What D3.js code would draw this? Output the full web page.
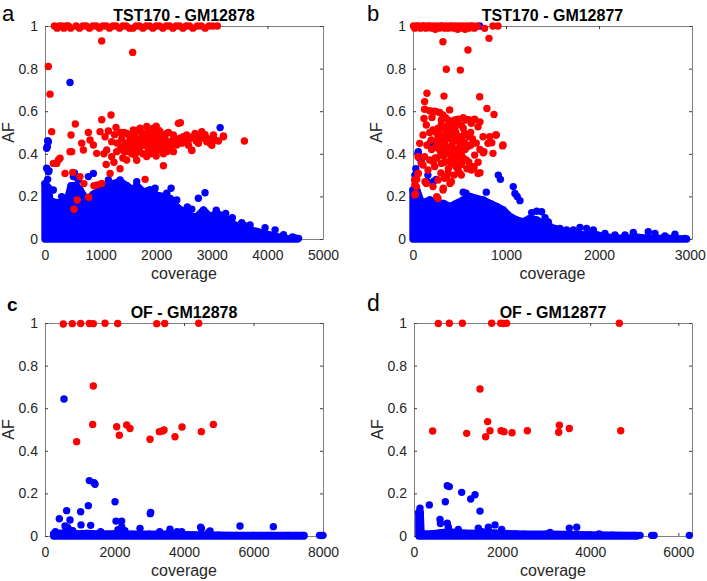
<!DOCTYPE html>
<html>
<head>
<meta charset="utf-8">
<script src="https://cdn.jsdelivr.net/npm/d3@7/dist/d3.min.js"></script>
<style>
  body { margin: 0; background: #fff; }
  text { font-family: "Liberation Sans", Arial, Helvetica, sans-serif; }
</style>
</head>
<body>
<svg id="fig" width="707" height="581"></svg>
<script>
// ---- data: [coverage, AF] ----
// solid blue cores (upper outline of the saturated point cloud)
var aCore = [[0,0],[0,0.26],[60,0.24],[90,0.18],[210,0.17],[330,0.17],[420,0.2],[470,0.25],[560,0.25],[630,0.23],[750,0.18],[870,0.21],[990,0.23],[1110,0.25],[1230,0.26],[1350,0.27],[1470,0.25],[1590,0.23],[1650,0.25],[1770,0.22],[1890,0.23],[2010,0.205],[2130,0.2],[2250,0.19],[2370,0.15],[2490,0.13],[2610,0.105],[2730,0.105],[2850,0.135],[2970,0.105],[3090,0.12],[3210,0.105],[3330,0.08],[3450,0.06],[3570,0.065],[3690,0.042],[3810,0.035],[3930,0.027],[4050,0.018],[4170,0.011],[4290,0.003],[4410,0],[4540,0]];
var aBlue = [[48,0.461],[30,0.426],[60,0.457],[42,0.434],[30,0.332],[72,0.321],[60,0.316],[48,0.28],[150,0.23],[300,0.199],[450,0.735],[510,0.308],[510,0.293],[530,0.31],[600,0.277],[560,0.29],[780,0.293],[870,0.308],[1140,0.277],[1350,0.277],[1650,0.269],[1980,0.238],[2190,0.215],[2268,0.238],[2370,0.183],[2758,0.191],[2878,0.217],[3150,0.523],[3538,0.077],[3688,0.066],[3958,0.053],[4138,0.043],[4290,0.02],[4450,0.01],[4500,0.005],[4560,0.003],[2640,0.14],[2560,0.15],[3080,0.135],[3250,0.12],[3370,0.1]];
var aRed = [[170,1],[220,0.99],[260,1],[300,1],[340,0.99],[380,1],[420,1],[460,0.99],[560,1],[620,0.99],[680,1],[740,1],[800,0.99],[860,1],[920,1],[980,0.99],[1040,1],[1100,1],[1160,0.99],[1220,1],[1280,1],[1340,0.99],[1400,1],[1460,1],[1520,0.99],[1580,0.99],[1640,1],[1700,1],[1760,0.99],[1820,1],[1880,1],[1940,0.99],[2000,1],[2060,1],[2120,0.99],[2180,1],[2240,1],[2300,0.99],[2360,1],[2420,1],[2480,0.99],[2540,1],[2600,1],[2660,0.99],[2740,1],[2810,1],[2880,0.99],[2950,1],[3020,1],[3100,1],
  [1020,0.93],[1577,0.876],[60,0.81],[90,0.68],[120,0.504],[1187,0.582],[1020,0.56],[545,0.54],[2435,0.546],[3586,0.46],[3210,0.48],[468,0.488],[450,0.41],[270,0.379],[150,0.355],[210,0.355],[240,0.371],[360,0.308],[498,0.313],[630,0.293],[700,0.26],[880,0.25],[940,0.254],[1020,0.261],[1800,0.28],[580,0.183],[786,0.196],[522,0.14],[1060,0.4],[1100,0.35],[2130,0.344],
  [780,0.5],[990,0.504],[1140,0.507],[1277,0.524],[660,0.45],[810,0.465],[870,0.441],[1080,0.48],[1200,0.457],[480,0.41],[690,0.418],[930,0.402],[1110,0.418],[1200,0.386],[1170,0.308],[1350,0.33],
  [1469,0.496],[1589,0.512],[1709,0.52],[1829,0.528],[1949,0.52],[2069,0.504],[2189,0.496],[2309,0.488],[2429,0.473],[2549,0.488],[1529,0.465],[1649,0.473],[1769,0.48],[1889,0.488],[2009,0.473],[2129,0.465],[2249,0.449],[2369,0.441],[1409,0.434],[1529,0.426],[1709,0.434],[1829,0.441],[1949,0.426],[2069,0.418],[2189,0.41],[2309,0.41],[1289,0.41],[1619,0.394],[1829,0.387],[1469,0.371],[2399,0.543],
  [1380,0.47],[1440,0.45],[1500,0.49],[1560,0.44],[1620,0.5],[1680,0.46],[1740,0.5],[1800,0.46],[1860,0.5],[1920,0.46],[1980,0.49],[2040,0.44],[2100,0.49],[2160,0.47],[2220,0.5],[2280,0.46],[2340,0.47],[2460,0.45],[2520,0.46],[1300,0.45],[1250,0.49],[1350,0.5],[1700,0.41],[1900,0.4],[2000,0.39],[1560,0.4],[1400,0.38],[1240,0.36],[1650,0.37],[2250,0.42],[2130,0.4],
  [1430,0.41],[1480,0.43],[1540,0.48],[1600,0.46],[1660,0.43],[1720,0.47],[1780,0.44],[1840,0.47],[1900,0.45],[1960,0.47],[2020,0.45],[2080,0.46],[2140,0.43],[2200,0.45],[1760,0.4],[1860,0.42],[1980,0.41],[2100,0.42],[1600,0.42],[1500,0.41],[2380,0.46],[2280,0.44],[1350,0.42],[1420,0.5],[1900,0.5],[2050,0.51],[1650,0.51],[2000,0.53],
  [2489,0.48],[2549,0.465],[2639,0.418],[2699,0.496],[2759,0.449],[2819,0.504],[2849,0.473],[2909,0.457],[2969,0.449],[3029,0.488],[3059,0.465],[3209,0.484],[2600,0.47],[2660,0.48],[2720,0.46],[2780,0.48],[2880,0.49],[2940,0.47],[3000,0.44],[3120,0.46],[2580,0.44],[2640,0.415]];

var bCore = [[0,0],[0,0.23],[40,0.23],[93,0.167],[183,0.183],[254,0.167],[326,0.167],[398,0.152],[469,0.167],[541,0.183],[613,0.2],[684,0.19],[756,0.183],[828,0.167],[900,0.152],[971,0.136],[1043,0.105],[1114,0.089],[1186,0.081],[1258,0.097],[1330,0.089],[1401,0.073],[1473,0.058],[1544,0.042],[1652,0.034],[1759,0.026],[1831,0.018],[1938,0.026],[2046,0.011],[2189,0.005],[2297,0.004],[2404,0.008],[2512,0.004],[2620,0.003],[2727,0.004],[2835,0.002],[2942,0]];
var bBlue = [[57,0.41],[54,0.402],[70,0.38],[90,0.36],[183,0.45],[200,0.44],[30,0.33],[20,0.3],[160,0.3],[220,0.27],[150,0.27],[250,0.28],[917,0.3],[940,0.28],[1078,0.246],[1096,0.214],[1120,0.2],[1150,0.18],[1276,0.124],[1330,0.13],[540,0.22],[570,0.215],[788,0.22],[1383,0.128],[1420,0.1],[1455,0.08],[1527,0.05],[1580,0.05],[1652,0.042],[1724,0.042],[1795,0.054],[1867,0.05],[1939,0.042],[2064,0.026],[2172,0.019],[2279,0.019],[2369,0.031],[2530,0.034],[2602,0.026],[2709,0.014],[2817,0.022],[2924,0.003],[717,1]];
var bRed = [[5,1],[20,0.99],[40,1],[60,1],[80,0.99],[100,1],[120,1],[140,0.99],[160,1],[180,1],[200,0.99],[220,1],[240,0.985],[260,1],[280,0.99],[300,1],[320,1],[340,0.99],[360,1],[380,0.99],[400,1],[420,1],[440,0.99],[460,1],[480,0.985],[500,1],[520,0.99],[540,1],[560,0.985],[580,1],[600,0.99],[620,1],[640,1],[660,0.99],[690,1],[770,0.989],[860,1],[914,1],
  [322,0.926],[591,0.887],[817,0.942],[358,0.797],[509,0.793],[150,0.684],[333,0.671],[717,0.668],[125,0.645],[795,0.613],[871,0.585],[125,0.609],[179,0.602],[251,0.598],[287,0.594],[394,0.606],[118,0.566],[204,0.571],[322,0.582],[305,0.559],[376,0.559],[448,0.559],[484,0.562],[573,0.559],[663,0.562],
  [143,0.535],[215,0.512],[305,0.535],[412,0.551],[520,0.535],[627,0.543],[699,0.527],[753,0.48],[824,0.48],[896,0.488],[806,0.449],[968,0.441],[860,0.402],[763,0.41],[663,0.394],[591,0.434],[484,0.41],[376,0.402],[287,0.418],[197,0.465],[108,0.488],[72,0.449],[269,0.48],[448,0.48],[555,0.496],[340,0.449],[412,0.355],[305,0.355],[233,0.34],[161,0.324],[90,0.355],[54,0.386],[125,0.386],[376,0.308],[520,0.3],[627,0.324],[699,0.308],[573,0.371],[484,0.324],[340,0.285],[269,0.277],[412,0.269],[215,0.246],[143,0.261],[54,0.308],[18,0.277],[36,0.246],[18,0.207],[269,0.19],[323,0.23],[108,0.347],[179,0.371],
  [250,0.5],[330,0.52],[390,0.5],[430,0.52],[470,0.46],[510,0.45],[540,0.52],[600,0.48],[640,0.47],[680,0.45],[720,0.42],[350,0.47],[420,0.44],[300,0.45],[240,0.43],[260,0.38],[330,0.39],[450,0.38],[520,0.4],[600,0.36],[560,0.42],[400,0.47],[460,0.5],[380,0.33],[440,0.3],[480,0.36],[700,0.36],[650,0.34],[20,0.255],[40,0.28],[600,0.56],[230,0.6],[350,0.57],[540,0.57],[660,0.56],[720,0.55],
  [280,0.5],[310,0.48],[360,0.5],[410,0.49],[450,0.52],[500,0.48],[530,0.46],[560,0.49],[620,0.5],[260,0.46],[320,0.43],[380,0.43],[440,0.42],[500,0.43],[560,0.45],[620,0.44],[300,0.4],[360,0.41],[420,0.4],[480,0.39],[540,0.38],[340,0.36],[400,0.37],[460,0.34],[520,0.35],[580,0.33],[270,0.52],[370,0.53],[470,0.54],[200,0.42],[180,0.5],[150,0.44],[240,0.38],[220,0.36],[300,0.31],[360,0.29],
  [656,0.336],[720,0.311],[505,0.308],[255,0.199],[326,0.238],[129,0.269],[398,0.261],[28,0.211],[57,0.308],[22,0.277],[889,0.488],[964,0.437],[847,0.452],[756,0.405]];

var cCore = [[250,0],[250,0.01],[600,0.015],[900,0.01],[1200,0.012],[1500,0.01],[2000,0.01],[2500,0.008],[3000,0.008],[3500,0.008],[4000,0.006],[4500,0.005],[5000,0.004],[5500,0.003],[6000,0.003],[6500,0.003],[7000,0.002],[7450,0.002],[7450,0]];
var cBlue = [[547,0.643],[1276,0.26],[1439,0.243],[1410,0.25],[2015,0.161],[1247,0.142],[623,0.119],[1026,0.114],[3041,0.111],[3030,0.105],[412,0.081],[720,0.075],[2043,0.07],[2206,0.07],[1036,0.052],[1314,0.05],[576,0.047],[2206,0.044],[4480,0.041],[4500,0.035],[5612,0.047],[6571,0.044],[2734,0.036],[3597,0.032],[4749,0.024],[3933,0.02],[700,0.03],[650,0.04],[300,0.02],[800,0.025],[1600,0.02],[2100,0.03],[2300,0.025],[3300,0.02],[3800,0.02],[4700,0.015],[7900,0.003],[8000,0.003],[7950,0.002]];
var cRed = [[527,0.995],[786,0.997],[1026,0.998],[1276,0.998],[1391,0.997],[1727,0.999],[2092,0.998],[3215,0.997],[3445,0.998],[4423,0.999],
  [1391,0.704],[1372,0.524],[911,0.443],[2063,0.513],[2139,0.473],[2351,0.521],[2446,0.505],[3022,0.454],[3290,0.49],[3387,0.493],[3425,0.498],[3741,0.466],[3943,0.512],[4499,0.49],[4845,0.524]];

var dCore = [[110,0],[110,0.11],[140,0.11],[160,0.01],[400,0.01],[600,0.015],[800,0.02],[1000,0.015],[1300,0.012],[1700,0.015],[2000,0.012],[2500,0.008],[3000,0.008],[3500,0.007],[4000,0.005],[4500,0.004],[5000,0.003],[5060,0.002],[5060,0]];
var dBlue = [[756,0.236],[802,0.232],[1082,0.205],[1287,0.174],[1385,0.194],[348,0.146],[711,0.161],[1498,0.117],[136,0.13],[136,0.107],[136,0.075],[590,0.078],[600,0.059],[756,0.06],[780,0.041],[1688,0.041],[1839,0.052],[1990,0.031],[1460,0.037],[1006,0.031],[3526,0.037],[3693,0.041],[3088,0.017],[5130,0.003],[5395,0.003],[5450,0.003],[6250,0.003],[1550,0.02],[2300,0.01],[4200,0.01]];
var dRed = [[552,0.998],[802,0.999],[1097,0.999],[1763,0.999],[1967,0.999],[2028,0.998],[2104,0.999],[4661,0.999],
  [1498,0.69],[424,0.493],[1196,0.482],[1627,0.466],[1672,0.537],[1725,0.494],[1975,0.494],[2043,0.49],[2225,0.485],[2573,0.494],[3284,0.487],[3299,0.52],[3526,0.505],[4692,0.494]];

var afTicks = [0, 0.2, 0.4, 0.6, 0.8, 1];

var panels = [
  {letter: "a", title: "TST170 - GM12878", xmax: 5000, xticks: [0,1000,2000,3000,4000,5000], core: aCore, blue: aBlue, red: aRed,
   box: [45, 323, 26, 239], lx: 2, ly: 21, lsize: 22, lweight: "normal"},
  {letter: "b", title: "TST170 - GM12877", xmax: 3000, xticks: [0,1000,2000,3000], core: bCore, blue: bBlue, red: bRed,
   box: [413, 692, 26, 239], lx: 367, ly: 21, lsize: 22, lweight: "normal"},
  {letter: "c", title: "OF - GM12878", xmax: 8000, xticks: [0,2000,4000,6000,8000], core: cCore, blue: cBlue, red: cRed,
   box: [45, 323, 323, 536], lx: 7, ly: 311, lsize: 19, lweight: "bold"},
  {letter: "d", title: "OF - GM12877", xmax: 6310, xticks: [0,2000,4000,6000], core: dCore, blue: dBlue, red: dRed,
   box: [414, 692, 323, 536], lx: 367, ly: 311, lsize: 23, lweight: "normal"}
];

var svg = d3.select("#fig");
var W = +svg.attr("width");
var R = 3.7;
var BLUE = "#0000ff", RED = "#ff0000";

panels.forEach(function(p) {
  var l = p.box[0], r = p.box[1], t = p.box[2], b = p.box[3];
  var x = d3.scaleLinear().domain([0, p.xmax]).range([l, r]);
  var y = d3.scaleLinear().domain([0, 1]).range([b, t]);
  var g = svg.append("g");

  // axes box with inward ticks
  var axes = g.append("g").attr("class", "axes");
  axes.append("g").attr("transform", "translate(0," + b + ")")
    .call(d3.axisBottom(x).tickValues(p.xticks).tickFormat(d3.format("d")).tickSizeInner(-3).tickSizeOuter(0).tickPadding(11));
  axes.append("g").attr("transform", "translate(0," + t + ")")
    .call(d3.axisTop(x).tickValues(p.xticks).tickFormat("").tickSizeInner(-3).tickSizeOuter(0));
  axes.append("g").attr("transform", "translate(" + l + ",0)")
    .call(d3.axisLeft(y).tickValues(afTicks).tickFormat(d3.format("~g")).tickSizeInner(-3).tickSizeOuter(0).tickPadding(7));
  axes.append("g").attr("transform", "translate(" + r + ",0)")
    .call(d3.axisRight(y).tickValues(afTicks).tickFormat("").tickSizeInner(-3).tickSizeOuter(0));
  axes.selectAll("path.domain").attr("stroke", "#808080").attr("stroke-width", 1);
  axes.selectAll(".tick line").attr("stroke", "#404040");
  axes.selectAll(".tick text").attr("fill", "#262626").style("font-size", "14px").style("font-family", "'Liberation Sans', Arial, sans-serif");
  // keep the last tick label inside the page
  axes.selectAll(".tick text").each(function() {
    var bb = this.getBBox(), m = this.parentNode.transform.baseVal.consolidate().matrix;
    var over = m.e + bb.x + bb.width - (W - 1);
    if (over > 0) d3.select(this).attr("dx", -over);
  });

  // blue points: saturated core, then scattered points
  var area = d3.area().x(function(d) { return x(d[0]); }).y0(y(0)).y1(function(d) { return y(d[1]); });
  g.append("path").datum(p.core).attr("d", area)
    .attr("fill", BLUE).attr("stroke", BLUE).attr("stroke-width", 2 * R).attr("stroke-linejoin", "round");
  g.append("g").selectAll("circle").data(p.core.filter(function(d) { return d[1] > 0; })).join("circle")
    .attr("cx", function(d) { return x(d[0]); }).attr("cy", function(d) { return y(d[1]); }).attr("r", R).attr("fill", BLUE);
  g.append("g").selectAll("circle").data(p.blue).join("circle")
    .attr("cx", function(d) { return x(d[0]); }).attr("cy", function(d) { return y(d[1]); }).attr("r", R).attr("fill", BLUE);

  // red points on top
  g.append("g").selectAll("circle").data(p.red).join("circle")
    .attr("cx", function(d) { return x(d[0]); }).attr("cy", function(d) { return y(d[1]); }).attr("r", R).attr("fill", RED);

  // labels
  g.append("text").attr("x", (l + r) / 2).attr("y", t - 5).attr("text-anchor", "middle")
    .style("font-size", "16px").style("font-weight", "bold").attr("fill", "#000").text(p.title);
  g.append("text").attr("x", (l + r) / 2).attr("y", b + 40).attr("text-anchor", "middle")
    .style("font-size", "16px").attr("fill", "#262626").text("coverage");
  g.append("text").attr("transform", "translate(" + (l - 31) + "," + ((t + b) / 2) + ")rotate(-90)")
    .attr("text-anchor", "middle").style("font-size", "16px").attr("fill", "#262626").text("AF");
  g.append("text").attr("x", p.lx).attr("y", p.ly)
    .style("font-size", p.lsize + "px").style("font-weight", p.lweight).attr("fill", "#000").text(p.letter);
});
</script>
</body>
</html>
